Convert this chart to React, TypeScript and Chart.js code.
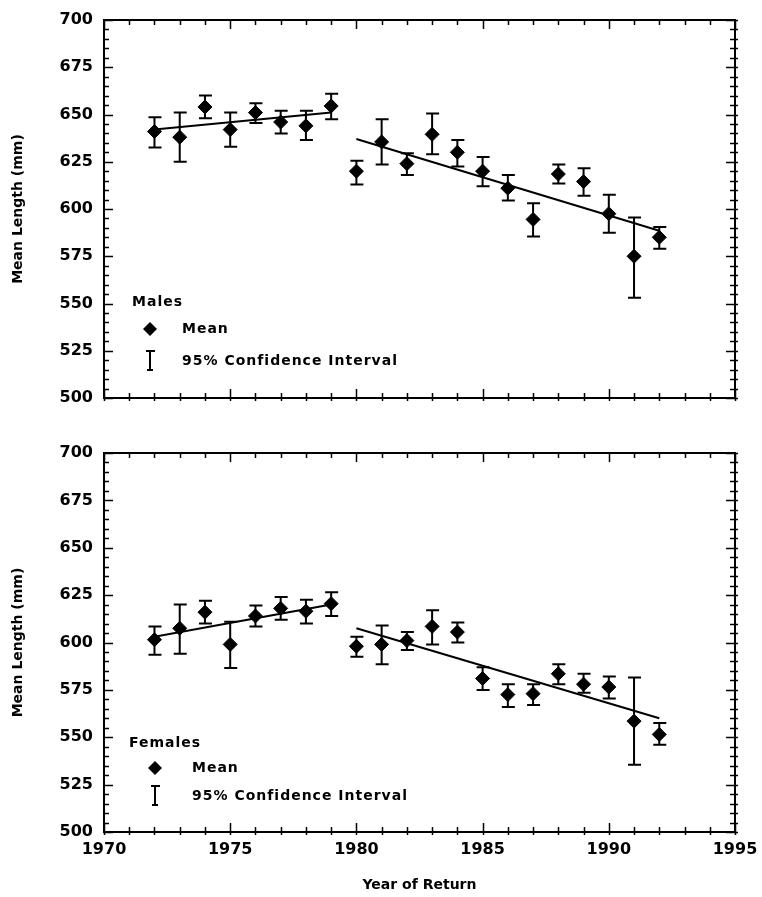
import React, { useEffect, useRef } from 'react';
import { Chart, registerables } from 'chart.js';

Chart.register(...registerables);

const FONT = 'DejaVu Sans';

const years = [1972, 1973, 1974, 1975, 1976, 1977, 1978, 1979, 1980, 1981, 1982, 1983, 1984, 1985, 1986, 1987, 1988, 1989, 1990, 1991, 1992];

const maleMean = [641, 638, 654, 642, 651, 646, 644, 654.5, 620, 635.5, 624, 639.5, 630, 620, 611, 594.5, 618.5, 614.5, 597.5, 575, 585];
const maleLow = [632.5, 625, 648, 633, 645.5, 640, 636.5, 647.5, 613, 623.5, 618, 629, 622.5, 612, 604.5, 585.5, 613.5, 607, 587.5, 553, 579];
const maleHigh = [648.5, 651, 660, 651, 656, 652, 652, 661, 625.5, 647.5, 629.5, 650.5, 636.5, 627.5, 618, 603, 623.5, 621.5, 607.5, 595.5, 590.5];

const femaleMean = [601.5, 607.5, 616, 599, 614, 618, 616.5, 620.5, 598, 599, 601, 608.5, 605.5, 581, 572.5, 573, 583.5, 578, 576.5, 558.5, 551.5];
const femaleLow = [593.5, 594, 610, 586.5, 608.5, 612, 610, 614, 592.5, 588.5, 596, 599, 600, 575, 566, 567, 578, 573.5, 570.5, 535.5, 546];
const femaleHigh = [608.5, 620, 622, 611, 619.5, 624, 622.5, 626.5, 603, 609, 605.5, 617, 610.5, 587, 578, 578, 588.5, 583.5, 582, 581.5, 557.5];

const trendEarlyYears = [1972, 1979];
const trendLateYears = [1980, 1992];
const maleTrendEarly = [642, 651];
const maleTrendLate = [637, 588.5];
const femaleTrendEarly = [603, 620];
const femaleTrendLate = [607.5, 560];

const xTickLabels = [1970, 1975, 1980, 1985, 1990, 1995];
const yTickLabels = [500, 525, 550, 575, 600, 625, 650, 675, 700];

const xTitle = 'Year of Return';
const yTitle = 'Mean Length (mm)';
const legendMean = 'Mean';
const legendCI = '95% Confidence Interval';

function errorBarPlugin(xs: number[], lo: number[], hi: number[]) {
  return {
    id: 'errorBars',
    afterDatasetsDraw(chart: any) {
      const { ctx, scales } = chart;
      const x = scales.x;
      const y = scales.y;
      ctx.save();
      ctx.strokeStyle = '#000';
      ctx.lineWidth = 2;
      xs.forEach((xv, i) => {
        const px = x.getPixelForValue(xv);
        const pl = y.getPixelForValue(lo[i]);
        const ph = y.getPixelForValue(hi[i]);
        ctx.beginPath();
        ctx.moveTo(px, ph);
        ctx.lineTo(px, pl);
        ctx.moveTo(px - 6, ph);
        ctx.lineTo(px + 7, ph);
        ctx.moveTo(px - 6, pl);
        ctx.lineTo(px + 7, pl);
        ctx.stroke();
      });
      ctx.restore();
    },
  };
}

const framePlugin = {
  id: 'frameTicks',
  afterDraw(chart: any) {
    const { ctx, chartArea, scales } = chart;
    const { left, right, top, bottom } = chartArea;
    const x = scales.x;
    const y = scales.y;
    ctx.save();
    ctx.strokeStyle = '#000';
    ctx.lineWidth = 2;
    ctx.strokeRect(left, top, right - left, bottom - top);
    ctx.lineWidth = 1.5;
    ctx.beginPath();
    for (let v = y.min; v <= y.max + 0.001; v += 5) {
      const py = Math.round(y.getPixelForValue(v)) + 0.5;
      const len = (v - y.min) % 25 === 0 ? 9 : 5;
      ctx.moveTo(left, py);
      ctx.lineTo(left + len, py);
      ctx.moveTo(right - len, py);
      ctx.lineTo(right + 3, py);
    }
    for (let v = x.min; v <= x.max + 0.001; v += 1) {
      const px = Math.round(x.getPixelForValue(v)) + 0.5;
      const len = (v - x.min) % 5 === 0 ? 9 : 5;
      ctx.moveTo(px, top);
      ctx.lineTo(px, top + len);
      ctx.moveTo(px, bottom - len);
      ctx.lineTo(px, bottom + 3);
    }
    ctx.stroke();
    ctx.restore();
  },
};

interface LegendPos {
  title: string;
  titleX: number;
  titleY: number;
  symX: number;
  meanY: number;
  textX: number;
  ciY: number;
}

function legendPlugin(p: LegendPos) {
  return {
    id: 'customLegend',
    afterDraw(chart: any) {
      const { ctx } = chart;
      ctx.save();
      ctx.fillStyle = '#000';
      ctx.strokeStyle = '#000';
      ctx.font = `bold 14px "${FONT}"`;
      (ctx as any).letterSpacing = '1px';
      ctx.textBaseline = 'middle';
      ctx.textAlign = 'left';
      ctx.fillText(p.title, p.titleX, p.titleY);
      ctx.fillText(legendMean, p.textX, p.meanY);
      ctx.fillText(legendCI, p.textX, p.ciY);
      const r = 7;
      ctx.beginPath();
      ctx.moveTo(p.symX, p.meanY - r);
      ctx.lineTo(p.symX + r, p.meanY);
      ctx.lineTo(p.symX, p.meanY + r);
      ctx.lineTo(p.symX - r, p.meanY);
      ctx.closePath();
      ctx.fill();
      ctx.lineWidth = 2;
      ctx.beginPath();
      ctx.moveTo(p.symX, p.ciY - 10);
      ctx.lineTo(p.symX, p.ciY + 10);
      ctx.moveTo(p.symX - 4, p.ciY - 10);
      ctx.lineTo(p.symX + 5, p.ciY - 10);
      ctx.moveTo(p.symX - 3, p.ciY + 9);
      ctx.lineTo(p.symX + 3, p.ciY + 9);
      ctx.stroke();
      ctx.restore();
    },
  };
}

function buildConfig(opts: {
  mean: number[];
  low: number[];
  high: number[];
  early: number[];
  late: number[];
  showXLabels: boolean;
  padTop: number;
  xHeight: number;
  legend: LegendPos;
}): any {
  const tickFont = { family: FONT, size: 16, weight: 'bold' as const };
  return {
    type: 'scatter',
    data: {
      datasets: [
        {
          label: legendMean,
          data: years.map((yr, i) => ({ x: yr, y: opts.mean[i] })),
          pointStyle: 'rectRot',
          pointRadius: 7,
          backgroundColor: '#000',
          borderColor: '#000',
          borderWidth: 1,
          showLine: false,
        },
        {
          label: 'trend1',
          data: trendEarlyYears.map((yr, i) => ({ x: yr, y: opts.early[i] })),
          showLine: true,
          borderColor: '#000',
          borderWidth: 2,
          pointRadius: 0,
        },
        {
          label: 'trend2',
          data: trendLateYears.map((yr, i) => ({ x: yr, y: opts.late[i] })),
          showLine: true,
          borderColor: '#000',
          borderWidth: 2,
          pointRadius: 0,
        },
      ],
    },
    options: {
      responsive: false,
      animation: false,
      devicePixelRatio: 1,
      layout: { padding: { left: 0, right: 27, top: opts.padTop, bottom: 0 } },
      plugins: {
        legend: { display: false },
        tooltip: { enabled: false },
      },
      scales: {
        x: {
          type: 'linear',
          min: 1970,
          max: 1995,
          afterBuildTicks: (s: any) => {
            s.ticks = xTickLabels.map((v) => ({ value: v }));
          },
          afterFit: (s: any) => {
            s.height = opts.xHeight;
            s.paddingLeft = 0;
            s.paddingRight = 0;
          },
          grid: { display: false, drawTicks: false },
          border: { display: false },
          ticks: {
            display: opts.showXLabels,
            color: '#000',
            font: tickFont,
            padding: 8,
            maxRotation: 0,
            callback: (v: any) => String(v),
          },
          title: {
            display: opts.showXLabels,
            text: xTitle,
            color: '#000',
            font: { family: FONT, size: 14, weight: 'bold' },
            padding: { top: 0, bottom: 3 },
          },
        },
        y: {
          type: 'linear',
          min: 500,
          max: 700,
          afterBuildTicks: (s: any) => {
            s.ticks = yTickLabels.map((v) => ({ value: v }));
          },
          afterFit: (s: any) => {
            s.width = 104;
            s.paddingTop = 0;
            s.paddingBottom = 0;
          },
          grid: { display: false, drawTicks: false },
          border: { display: false },
          ticks: {
            color: '#000',
            font: tickFont,
            padding: 11,
            callback: (v: any) => String(v),
          },
          title: {
            display: true,
            text: yTitle,
            color: '#000',
            font: { family: FONT, size: 14, weight: 'bold' },
            padding: { top: 10, bottom: 0 },
          },
        },
      },
    },
    plugins: [errorBarPlugin(years, opts.low, opts.high), framePlugin, legendPlugin(opts.legend)],
  };
}

export default function App() {
  const topRef = useRef<HTMLCanvasElement>(null);
  const botRef = useRef<HTMLCanvasElement>(null);

  useEffect(() => {
    const c1 = new Chart(
      topRef.current as HTMLCanvasElement,
      buildConfig({
        mean: maleMean,
        low: maleLow,
        high: maleHigh,
        early: maleTrendEarly,
        late: maleTrendLate,
        showXLabels: false,
        padTop: 20,
        xHeight: 32,
        legend: { title: 'Males', titleX: 132, titleY: 302, symX: 150, meanY: 329, textX: 182, ciY: 361 },
      })
    );
    const c2 = new Chart(
      botRef.current as HTMLCanvasElement,
      buildConfig({
        mean: femaleMean,
        low: femaleLow,
        high: femaleHigh,
        early: femaleTrendEarly,
        late: femaleTrendLate,
        showXLabels: true,
        padTop: 23,
        xHeight: 65,
        legend: { title: 'Females', titleX: 129, titleY: 313, symX: 155, meanY: 338, textX: 192, ciY: 366 },
      })
    );
    return () => {
      c1.destroy();
      c2.destroy();
    };
  }, []);

  return (
    <div style={{ position: 'absolute', left: 0, top: 0, width: 762, height: 897, background: '#fff' }}>
      <canvas
        ref={topRef}
        width={762}
        height={430}
        style={{ position: 'absolute', left: 0, top: 0, width: 762, height: 430 }}
      />
      <canvas
        ref={botRef}
        width={762}
        height={467}
        style={{ position: 'absolute', left: 0, top: 430, width: 762, height: 467 }}
      />
    </div>
  );
}
